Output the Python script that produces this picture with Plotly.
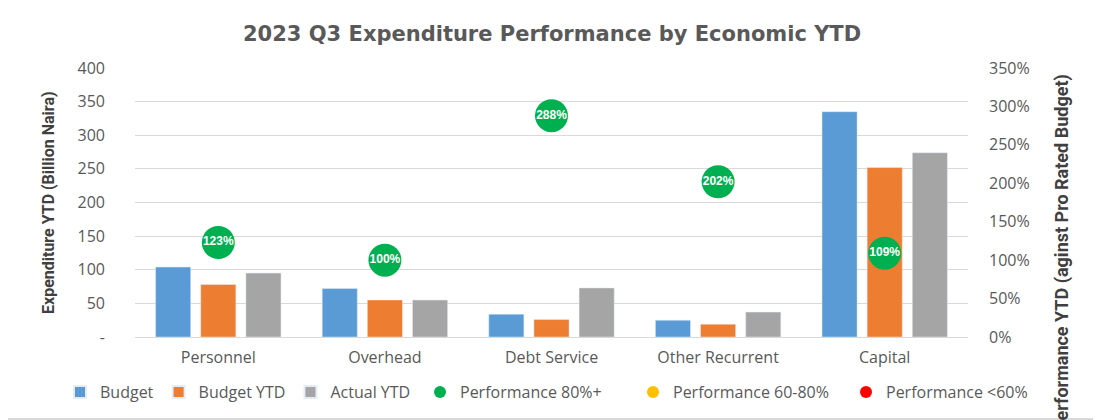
import plotly.graph_objects as go

# chart data
categories = ["Personnel", "Overhead", "Debt Service", "Other Recurrent", "Capital"]
budget = [104, 72, 34, 25, 335]
budget_ytd = [78, 55, 26, 19, 252]
actual_ytd = [95, 55, 73, 37, 274]
performance = [123, 100, 288, 202, 109]

left_ticks = [0, 50, 100, 150, 200, 250, 300, 350, 400]
left_ticktext = ["-", "50", "100", "150", "200", "250", "300", "350", "400"]

# the page body adds an 8px margin, so the figure is sized to fit the window
W, H = 1093, 412
L, R, T, B = 127, 133, 60, 83
pw, ph = W - L - R, H - T - B


def px_x(px):
    return (px - L) / pw


def px_y(py):
    return (H - B - py) / ph


grey_txt = "#595959"
tick_font = dict(family="Open Sans", size=16, color=grey_txt)
legend_font = dict(family="Open Sans", size=16, color=grey_txt)

fig = go.Figure()
fig.add_trace(go.Bar(x=categories, y=budget, name="Budget", marker_color="#5b9bd5"))
fig.add_trace(go.Bar(x=categories, y=budget_ytd, name="Budget YTD", marker_color="#ed7d31"))
fig.add_trace(go.Bar(x=categories, y=actual_ytd, name="Actual YTD", marker_color="#a5a5a5"))

# performance bubbles split by band
bands = [
    ("Performance 80%+", "#00b050", lambda v: v >= 80),
    ("Performance 60-80%", "#ffc000", lambda v: 60 <= v < 80),
    ("Performance <60%", "#ff0000", lambda v: v < 60),
]
for name, color, test in bands:
    xs = [c for c, v in zip(categories, performance) if test(v)]
    ys = [v for v in performance if test(v)]
    if not xs:
        xs, ys = [categories[0]], [None]
    fig.add_trace(go.Scatter(
        x=xs, y=ys, yaxis="y2", name=name, mode="markers+text", legend="legend2",
        marker=dict(color=color, size=33),
        text=[f"{v}%" if v is not None else "" for v in ys],
        textposition="middle center",
        textfont=dict(family="Liberation Sans", size=12, color="white", weight="bold"),
        cliponaxis=False,
    ))

fig.update_layout(
    width=W, height=H,
    margin=dict(l=L, r=R, t=T, b=B, autoexpand=False),
    paper_bgcolor="white",
    plot_bgcolor="white",
    barmode="group",
    bargap=0.187,
    bargroupgap=0.222,
    showlegend=True,
    legend=dict(
        orientation="h", x=px_x(52), xanchor="left", y=px_y(384), yanchor="middle",
        font=legend_font, itemsizing="constant", itemwidth=30,
        bgcolor="rgba(0,0,0,0)", traceorder="normal",
    ),
    legend2=dict(
        orientation="h", x=px_x(412), xanchor="left", y=px_y(384), yanchor="middle",
        font=legend_font, itemsizing="constant", itemwidth=30, entrywidth=168,
        bgcolor="rgba(0,0,0,0)", traceorder="normal",
    ),
    xaxis=dict(
        tickfont=dict(family="Open Sans", size=16, color=grey_txt),
        showgrid=False, showline=False, ticks="", ticklabelstandoff=9,
        automargin=False,
    ),
    yaxis=dict(
        range=[0, 400], tickvals=left_ticks, ticktext=left_ticktext,
        tickfont=tick_font, gridcolor="#d9d9d9", gridwidth=1,
        zeroline=True, zerolinecolor="#d9d9d9", zerolinewidth=1,
        ticklabelstandoff=29, automargin=False,
    ),
    yaxis2=dict(
        range=[0, 350], dtick=50, ticksuffix="%", overlaying="y", side="right",
        tickfont=tick_font, showgrid=False, zeroline=False,
        ticklabelstandoff=20, automargin=False,
    ),
    shapes=[
        dict(type="rect", xref="paper", yref="paper", layer="below",
             x0=px_x(-5), x1=px_x(W + 5), y0=px_y(H + 5), y1=px_y(410),
             fillcolor="#d9d9d9", line_width=0),
    ],
    annotations=[
        dict(text="2023 Q3 Expenditure Performance by Economic YTD",
             xref="paper", yref="paper", x=px_x(544), y=px_y(26),
             xanchor="center", yanchor="middle", showarrow=False,
             font=dict(family="DejaVu Sans", size=21, color=grey_txt, weight="bold")),
        dict(text="Expenditure YTD (Billion Naira)",
             xref="paper", yref="paper", x=px_x(40), y=px_y(195),
             xanchor="center", yanchor="middle", textangle=-90, showarrow=False,
             font=dict(family="Roboto", size=16, color="#404040", weight="bold")),
        dict(text="Performance YTD (aginst Pro Rated Budget)",
             xref="paper", yref="paper", x=px_x(1054), y=px_y(64),
             xanchor="center", yanchor="top", textangle=-90, showarrow=False,
             font=dict(family="Roboto", size=18, color="#404040", weight="bold")),
    ],
)

fig.write_html("out.html")
